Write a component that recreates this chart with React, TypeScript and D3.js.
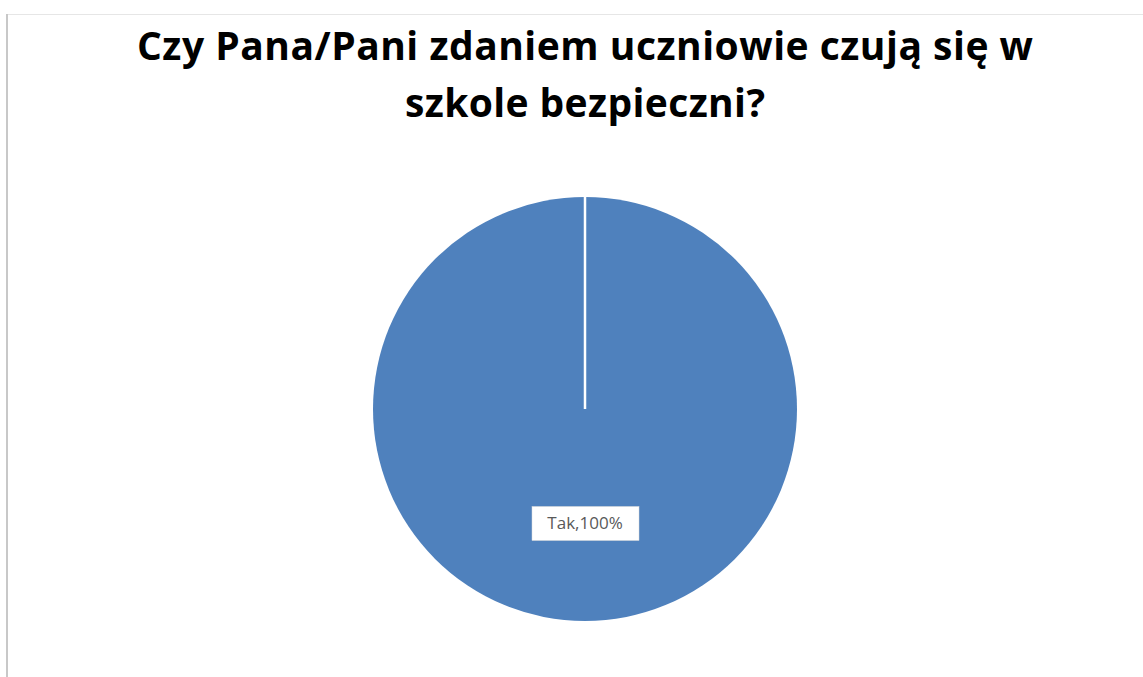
import React from "react";
import * as d3 from "d3";

const categories = ["Tak"];
const values = [100];
const titleLines = ["Czy Pana/Pani zdaniem uczniowie czują się w", "szkole bezpieczni?"];
const titleWidths = [896, 360];

const width = 1143;
const height = 677;
const cx = 585;
const cy = 409;
const radius = 212;

export default function App() {
  const pie = d3.pie<number>().sort(null).value((d) => d);
  const arcs = pie(values);
  const arc = d3.arc<d3.PieArcDatum<number>>().innerRadius(0).outerRadius(radius);
  const color = d3.scaleOrdinal<string, string>().domain(categories).range(["#4F81BD"]);

  return (
    <svg
      width={width}
      height={height}
      style={{ position: "absolute", left: 0, top: 0, background: "#fff" }}
    >
      {/* chart frame edges */}
      <line x1={7} y1={14} x2={7} y2={height} stroke="#c8c8c8" strokeWidth={2} />
      <line x1={8} y1={14.5} x2={width} y2={14.5} stroke="#e6e6e6" strokeWidth={1} />

      <g fontFamily="'Open Sans', 'Noto Sans', sans-serif" fontWeight={700} fontSize={39} textAnchor="middle" fill="#000">
        {titleLines.map((t, i) => (
          <text key={i} x={cx} y={60 + i * 57} textLength={titleWidths[i]} lengthAdjust="spacing">
            {t}
          </text>
        ))}
      </g>

      <g transform={`translate(${cx},${cy})`}>
        {arcs.map((a, i) => {
          const [ex, ey] = d3.pointRadial(a.startAngle, radius);
          const [lx, ly] = d3.pointRadial((a.startAngle + a.endAngle) / 2, radius * 0.54);
          const label = `${categories[i]},${values[i]}%`;
          return (
            <g key={i}>
              <path d={arc(a) ?? ""} fill={color(categories[i])} />
              <line x1={0} y1={0} x2={ex} y2={ey} stroke="#fff" strokeWidth={2.5} />
              <rect x={lx - 53} y={ly - 17} width={107} height={34} fill="#fff" stroke="#d9d9d9" strokeWidth={0.5} />
              <text
                x={lx}
                y={ly}
                dy="0.35em"
                textAnchor="middle"
                fontFamily="'Open Sans', 'Noto Sans', sans-serif"
                fontSize={17}
                fill="#595959"
              >
                {label}
              </text>
            </g>
          );
        })}
      </g>
    </svg>
  );
}
